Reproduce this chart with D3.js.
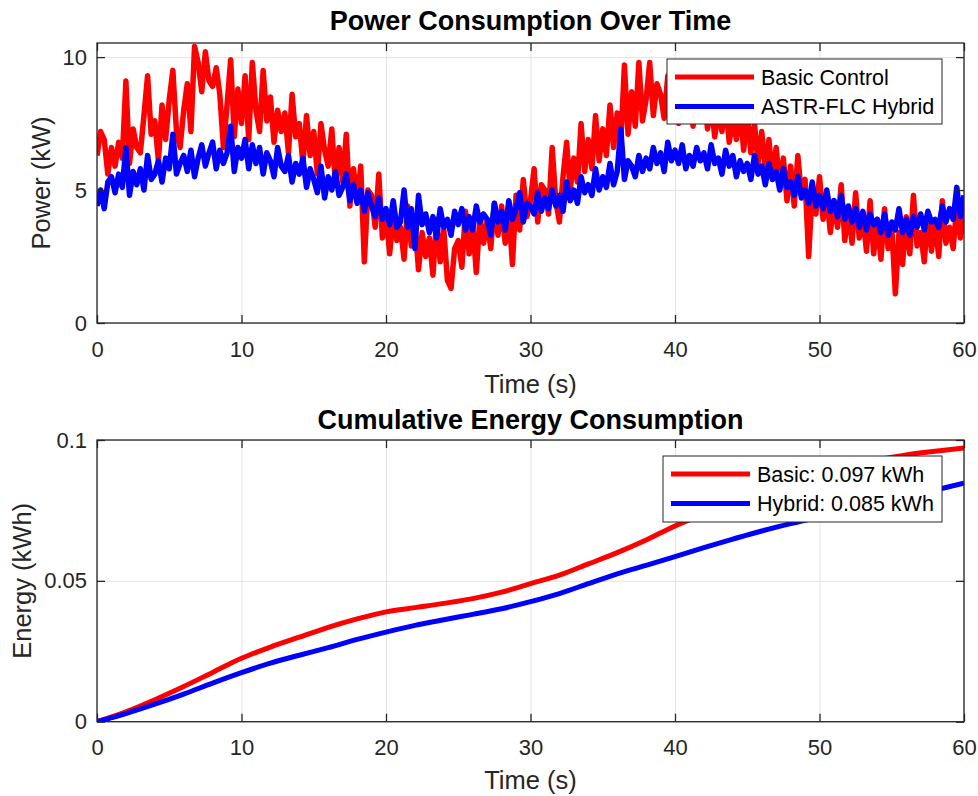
<!DOCTYPE html>
<html>
<head>
<meta charset="utf-8">
<script src="https://cdn.jsdelivr.net/npm/d3@7"></script>
<style>
  body { margin: 0; background: #fff; }
  text { font-family: "Liberation Sans", Arial, Helvetica, sans-serif; fill: #262626; }
</style>
</head>
<body>
<script>
// sampled power, 0.25 s apart, 0..60 s
var power_step = 0.25;
var power_basic = [
  6.3, 7.2, 6.9, 5.6, 6.6, 5.9, 6.8, 6.2, 9.1, 6.0, 7.3, 6.6, 6.4, 7.8, 9.3, 7.1, 7.6, 6.1, 8.2, 6.9,
  8.4, 9.5, 7.2, 6.6, 8.0, 9.0, 7.2, 10.4, 9.8, 8.7, 10.2, 9.1, 8.9, 9.6, 8.6, 6.6, 8.2, 9.9, 7.0, 8.8,
  7.5, 9.3, 6.9, 9.8, 8.0, 7.2, 9.5, 7.6, 8.5, 6.8, 8.0, 7.2, 7.9, 6.4, 8.6, 7.0, 7.5, 6.0, 7.8, 6.3,
  7.2, 5.6, 7.5, 6.5, 5.9, 7.3, 5.2, 6.6, 5.3, 7.1, 4.4, 5.8, 4.6, 5.9, 2.3, 5.0, 4.8, 3.6, 5.6, 3.2,
  4.2, 2.6, 4.0, 3.1, 3.6, 2.4, 4.4, 2.9, 3.8, 2.0, 3.4, 2.5, 3.2, 1.8, 3.9, 2.3, 3.5, 1.6, 1.3, 2.8,
  3.1, 2.1, 4.2, 2.6, 3.7, 1.9, 4.0, 3.0, 3.9, 2.8, 4.5, 3.3, 4.4, 3.0, 4.2, 2.2, 4.8, 3.5, 5.4, 4.0,
  4.6, 5.8, 3.8, 5.2, 5.0, 4.1, 6.6, 4.6, 3.8, 5.5, 6.8, 5.0, 6.2, 5.3, 7.5, 5.7, 6.9, 5.8, 7.8, 6.1,
  7.3, 6.3, 8.2, 6.6, 7.9, 6.8, 9.7, 7.1, 8.7, 7.4, 9.8, 7.6, 8.4, 9.8, 7.8, 9.0, 8.6, 7.7, 9.3, 8.1,
  8.9, 7.5, 9.0, 7.9, 8.7, 7.4, 8.5, 7.6, 8.9, 7.3, 8.3, 7.0, 8.0, 7.2, 8.4, 6.8, 7.6, 6.9, 8.1, 6.5,
  7.9, 6.4, 7.5, 6.0, 7.2, 5.8, 6.9, 5.4, 6.6, 5.2, 6.2, 4.6, 5.9, 4.4, 6.3, 4.8, 5.4, 2.5, 5.0, 4.1,
  5.5, 3.9, 4.8, 3.4, 4.6, 3.6, 5.2, 3.1, 4.3, 3.0, 4.9, 3.2, 4.1, 2.7, 4.6, 2.6, 3.9, 2.4, 4.3, 2.8,
  3.6, 1.1, 3.4, 2.2, 4.0, 2.6, 4.8, 2.9, 3.4, 2.3, 4.1, 2.7, 3.8, 2.5, 4.6, 3.0, 3.6, 2.8, 4.4, 3.2,
  4.2
];
var power_hybrid = [
  4.4, 5.0, 4.3, 5.3, 5.5, 4.9, 5.6, 5.1, 6.6, 4.8, 5.7, 5.2, 5.8, 5.0, 6.3, 5.4, 5.6, 6.1, 5.3, 6.2,
  5.8, 7.1, 5.6, 6.0, 6.3, 5.7, 6.5, 5.5, 6.2, 6.7, 5.9, 6.4, 6.8, 5.8, 6.5, 6.0, 6.4, 7.4, 5.7, 6.6,
  6.2, 6.9, 5.8, 6.7, 6.0, 6.6, 5.6, 6.4, 6.1, 5.5, 6.6, 5.9, 5.7, 6.3, 5.3, 6.0, 5.6, 6.2, 5.1, 5.8,
  5.4, 4.9, 5.9, 4.7, 5.5, 5.0, 5.7, 4.8, 5.1, 5.6, 4.6, 5.2, 4.5, 5.0, 4.2, 4.9, 4.4, 4.0, 4.7, 3.9,
  4.3, 3.7, 4.6, 3.6, 3.8, 5.0, 3.6, 4.3, 2.8, 4.8, 3.7, 4.1, 3.4, 4.0, 3.2, 4.3, 3.6, 3.9, 3.3, 4.2,
  3.7, 4.3, 3.5, 4.0, 3.5, 4.4, 3.8, 4.1, 3.9, 3.3, 4.5, 3.8, 4.2, 3.5, 4.6, 3.9, 4.3, 4.9, 3.8, 4.5,
  4.4, 4.1, 4.9, 4.2, 4.7, 4.3, 5.0, 4.4, 4.8, 4.2, 5.3, 4.6, 5.0, 4.5, 5.5, 4.9, 5.2, 4.8, 5.8, 5.0,
  5.5, 5.1, 6.0, 5.2, 5.7, 7.3, 5.4, 6.1, 5.9, 5.5, 6.3, 5.7, 6.2, 5.8, 6.6, 6.0, 6.4, 5.7, 6.8, 6.1,
  6.5, 6.0, 6.7, 5.8, 6.3, 5.9, 6.6, 6.1, 6.4, 5.8, 6.7, 6.0, 6.2, 5.6, 6.5, 5.9, 6.3, 5.5, 6.1, 5.7,
  6.0, 5.4, 6.3, 5.6, 5.9, 5.2, 6.0, 5.4, 5.7, 5.0, 5.8, 5.1, 5.3, 4.8, 5.5, 4.7, 5.0, 4.5, 5.3, 4.4,
  4.8, 4.3, 5.0, 4.2, 4.6, 4.0, 4.8, 3.9, 4.4, 3.8, 4.3, 3.6, 4.2, 3.5, 4.1, 3.7, 3.9, 3.4, 4.1, 3.3,
  3.8, 3.5, 4.3, 3.4, 3.9, 3.3, 4.0, 3.6, 4.1, 3.5, 4.2, 3.8, 3.9, 3.6, 4.4, 3.8, 4.3, 3.9, 5.1, 4.0,
  4.8
];

// cumulative energy, read every 2 s
var energy_time = [0, 2, 4, 6, 8, 10, 12, 14, 16, 18, 20, 22, 24, 26, 28, 30,
                   32, 34, 36, 38, 40, 42, 44, 46, 48, 50, 52, 54, 56, 58, 60];
var energy_basic = [0, 0.0035, 0.0078, 0.0125, 0.0175, 0.0225, 0.0265, 0.0300, 0.0335, 0.0365,
                    0.0390, 0.0405, 0.0420, 0.0437, 0.0460, 0.0490, 0.0520, 0.0560, 0.0600,
                    0.0645, 0.0695, 0.0738, 0.0780, 0.0820, 0.0858, 0.0888, 0.0912, 0.0930,
                    0.0947, 0.0960, 0.0972];
var energy_hybrid = [0, 0.0029, 0.0062, 0.0098, 0.0137, 0.0174, 0.0208, 0.0236, 0.0263, 0.0292,
                     0.0318, 0.0342, 0.0362, 0.0381, 0.0401, 0.0426, 0.0455, 0.0490, 0.0525,
                     0.0555, 0.0586, 0.0618, 0.0648, 0.0677, 0.0703, 0.0727, 0.0750, 0.0772,
                     0.0795, 0.0822, 0.0847];

var time_ticks = [0, 10, 20, 30, 40, 50, 60];
var power_ticks = [0, 5, 10];
var energy_ticks = [0, 0.05, 0.1];
var energy_tick_labels = ["0", "0.05", "0.1"];

var power_labels = ["Basic Control", "ASTR-FLC Hybrid"];
var energy_labels = ["Basic: 0.097 kWh", "Hybrid: 0.085 kWh"];
var series_colors = ["#ff0000", "#0000ff"];

var svg_width = 978, svg_height = 796;
var plot_left = 97, plot_right = 964;
var axis_color = "#262626", grid_color = "#e3e3e3";
var tick_font = 22, label_font = 25.5, title_font = 27, legend_font = 21.5;

var svg = d3.select("body").append("svg")
  .attr("width", svg_width).attr("height", svg_height);

var x = d3.scaleLinear().domain([0, 60]).range([plot_left, plot_right]);

function panel(o)
{
  var y = d3.scaleLinear().domain(o.ydomain).range([o.bottom, o.top]);
  var g = svg.append("g");
  var h = o.bottom - o.top, w = plot_right - plot_left;

  // grid
  g.append("g").attr("transform", "translate(0," + o.bottom + ")")
    .call(d3.axisBottom(x).tickValues(time_ticks).tickSize(-h).tickFormat(""))
    .call(function(s) { s.select(".domain").remove(); s.selectAll("line").attr("stroke", grid_color); });
  g.append("g").attr("transform", "translate(" + plot_left + ",0)")
    .call(d3.axisLeft(y).tickValues(o.yticks).tickSize(-w).tickFormat(""))
    .call(function(s) { s.select(".domain").remove(); s.selectAll("line").attr("stroke", grid_color); });

  // data
  var clipid = "clip" + o.top;
  svg.append("clipPath").attr("id", clipid).append("rect")
    .attr("x", plot_left).attr("y", o.top).attr("width", w).attr("height", h);
  var line = d3.line().x(function(d) { return x(d[0]); }).y(function(d) { return y(d[1]); });
  if (o.curve) line.curve(o.curve);
  o.series.forEach(function(s, i) {
    g.append("path").datum(s)
      .attr("clip-path", "url(#" + clipid + ")")
      .attr("fill", "none").attr("stroke", series_colors[i])
      .attr("stroke-width", o.lw).attr("stroke-linejoin", "round")
      .attr("d", line);
  });

  // axes with inward ticks, box on
  function style(s) {
    s.select(".domain").remove();
    s.selectAll("line").attr("stroke", axis_color).attr("stroke-width", 1.3);
    s.selectAll("text").attr("font-size", tick_font).attr("fill", axis_color)
      .style("font-family", "'Liberation Sans', Arial, sans-serif");
  }
  g.append("g").attr("transform", "translate(0," + o.bottom + ")")
    .call(d3.axisBottom(x).tickValues(time_ticks).tickSizeInner(-8).tickSizeOuter(0).tickPadding(18))
    .call(style);
  g.append("g").attr("transform", "translate(0," + o.top + ")")
    .call(d3.axisTop(x).tickValues(time_ticks).tickSizeInner(-8).tickSizeOuter(0).tickFormat(""))
    .call(style);
  g.append("g").attr("transform", "translate(" + plot_left + ",0)")
    .call(d3.axisLeft(y).tickValues(o.yticks).tickSizeInner(-8).tickSizeOuter(0).tickPadding(10)
      .tickFormat(function(d, i) { return o.ylabels[i]; }))
    .call(style);
  g.append("g").attr("transform", "translate(" + plot_right + ",0)")
    .call(d3.axisRight(y).tickValues(o.yticks).tickSizeInner(-8).tickSizeOuter(0).tickFormat(""))
    .call(style);
  g.append("rect").attr("x", plot_left).attr("y", o.top).attr("width", w).attr("height", h)
    .attr("fill", "none").attr("stroke", axis_color).attr("stroke-width", 1.3);

  // texts
  g.append("text").text(o.title)
    .attr("x", (plot_left + plot_right) / 2).attr("y", o.title_y)
    .attr("text-anchor", "middle").attr("font-weight", "bold")
    .attr("font-size", title_font).style("fill", "#000");
  g.append("text").text("Time (s)")
    .attr("x", (plot_left + plot_right) / 2).attr("y", o.xlabel_y)
    .attr("text-anchor", "middle").attr("font-size", label_font);
  g.append("text").text(o.ylabel)
    .attr("transform", "translate(" + o.ylabel_x + "," + (o.top + o.bottom) / 2 + ") rotate(-90)")
    .attr("text-anchor", "middle").attr("font-size", label_font);

  // legend
  var lg = g.append("g");
  lg.append("rect").attr("x", o.legend[0]).attr("y", o.legend[1])
    .attr("width", plot_right - 22 - o.legend[0]).attr("height", o.legend[2])
    .attr("fill", "#fff").attr("stroke", axis_color).attr("stroke-width", 1);
  o.labels.forEach(function(t, i) {
    var ly = o.legend[1] + 18 + i * 29.5;
    lg.append("line").attr("x1", o.legend[0] + 8).attr("x2", o.legend[0] + 87)
      .attr("y1", ly).attr("y2", ly)
      .attr("stroke", series_colors[i]).attr("stroke-width", 5);
    lg.append("text").text(t).attr("x", o.legend[0] + 94).attr("y", ly)
      .attr("dy", "0.35em").attr("font-size", legend_font).style("fill", "#000");
  });
}

function pairs(values, step) {
  return values.map(function(v, i) { return [i * step, v]; });
}

panel({
  top: 43, bottom: 323, ydomain: [0, 10.53], yticks: power_ticks,
  ylabels: power_ticks.map(String), lw: 5.5,
  series: [pairs(power_basic, power_step), pairs(power_hybrid, power_step)],
  title: "Power Consumption Over Time", title_y: 30, xlabel_y: 393,
  ylabel: "Power (kW)", ylabel_x: 50,
  legend: [667, 59, 65], labels: power_labels
});

panel({
  top: 440, bottom: 721.7, ydomain: [0, 0.1], yticks: energy_ticks,
  ylabels: energy_tick_labels, lw: 5, curve: d3.curveMonotoneX,
  series: [energy_time.map(function(t, i) { return [t, energy_basic[i]]; }),
           energy_time.map(function(t, i) { return [t, energy_hybrid[i]]; })],
  title: "Cumulative Energy Consumption", title_y: 429, xlabel_y: 789,
  ylabel: "Energy (kWh)", ylabel_x: 31,
  legend: [663, 456, 66], labels: energy_labels
});
</script>
</body>
</html>
